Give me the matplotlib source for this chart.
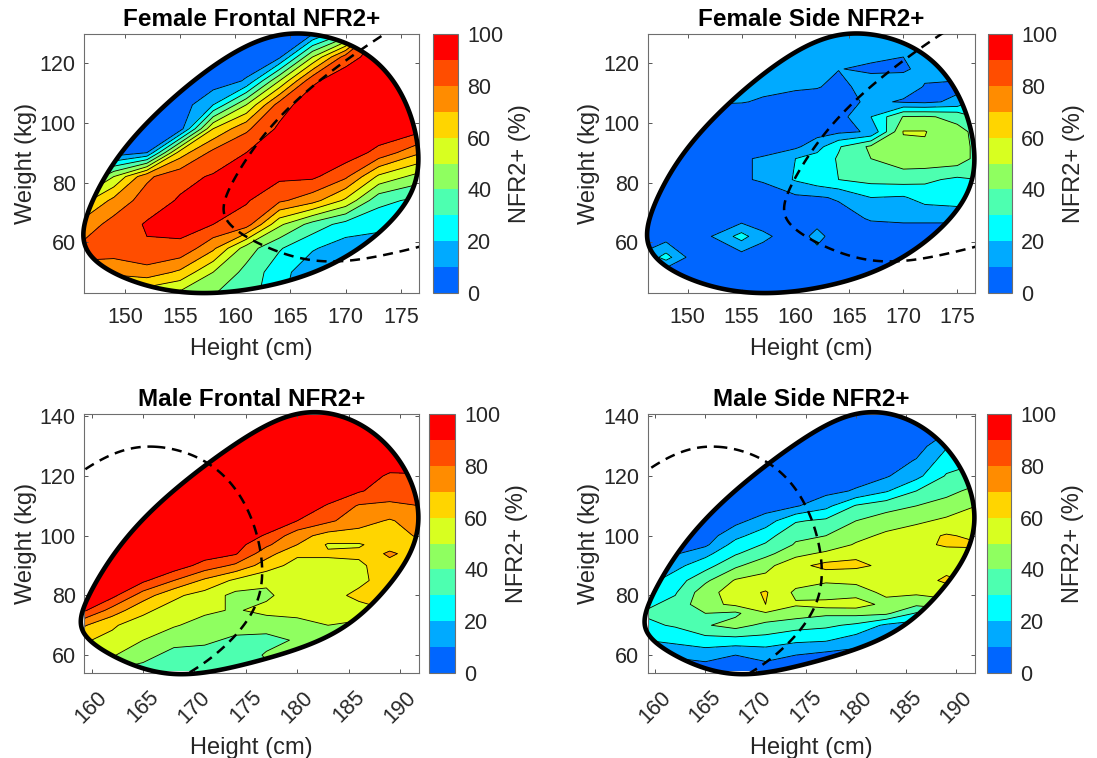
import numpy as np
import matplotlib
matplotlib.use('Agg')
import matplotlib.pyplot as plt
from matplotlib.path import Path
from matplotlib.patches import PathPatch

plt.rcParams['font.family'] = ['Liberation Sans', 'DejaVu Sans']

levels = [0, 10, 20, 30, 40, 50, 60, 70, 80, 90, 100]
band_colors = ['#0066ff', '#00aaff', '#00ffff', '#4dffb0', '#8fff60',
               '#d8ff20', '#ffd500', '#ff8c00', '#ff4d00', '#ff0000']

# accommodation boundaries (height, weight)
female_h = [166, 168.8, 171.2, 173.3, 175.1, 176.2, 176.6, 176.3, 175.4, 173.8, 171.2, 168.8, 165.8, 162.8, 159.8,
            156.8, 153.8, 150.8, 148.4, 146.9, 146.3, 146.5, 147.2, 148.4, 150.2, 152.3, 155, 158, 161.3, 163.7]
female_w = [130, 128.3, 124.4, 118.3, 109.4, 98.8, 88.8, 81, 73.2, 65.4, 58.1, 53.1, 48.1, 45.3, 43.6,
            43, 44.2, 47, 50.9, 55.3, 62, 67.6, 75.4, 83.2, 92.1, 101, 110.5, 118.9, 126.1, 128.9]
male_h = [182.2, 185.4, 187.6, 189.6, 191, 191.8, 191.5, 190.5, 188.9, 186.7, 184.7, 181.8, 178.6, 175.1, 171.2,
          168.6, 165.7, 162.8, 160.5, 159.4, 159.2, 159.4, 160.5, 162.5, 165.1, 167.9, 171.2, 174.4, 178, 180.2]
male_w = [141.1, 138.9, 134.4, 126.6, 117.7, 107.6, 99.8, 90.8, 83, 75.2, 70.2, 64.6, 60.1, 56.8, 54.5,
          54, 55.1, 57.9, 62.3, 67.9, 71.8, 77.4, 86.4, 95.3, 105.4, 114.3, 124.4, 132.2, 138.3, 140.6]

# Female frontal: one list per height, weights bottom to top
ff_heights = [146, 149, 152, 155, 158, 161, 164, 167, 170, 173, 177]
ff_weights = [42, 50, 58, 66, 74, 82, 90, 98, 106, 114, 122, 130]
ff_values = [
    [65, 78, 82, 73, 55, 20, 5, 4, 4, 4, 4, 4],
    [55, 72, 86, 84, 73, 50, 4, 4, 4, 4, 4, 4],
    [50, 76, 89, 91, 85, 78, 10, 4, 4, 4, 4, 4],
    [45, 68, 88, 93, 91, 87, 65, 5, 4, 4, 4, 4],
    [40, 50, 72, 90, 94, 91, 83, 60, 20, 4, 4, 4],
    [35, 37, 45, 85, 91, 93, 90, 78, 50, 11, 4, 4],
    [22, 24, 31, 52, 82, 92, 97, 92, 85, 50, 8, 4],
    [12, 13, 21, 36, 74, 92, 97, 97, 97, 88, 50, 8],
    [8, 8, 15, 26, 58, 82, 96, 97, 97, 97, 85, 30],
    [8, 8, 14, 23, 33, 58, 87, 97, 97, 97, 96, 90],
    [8, 9, 12, 21, 27, 45, 70, 93, 97, 97, 97, 97],
]

# Female side: one list per weight
fs_heights = [146, 148, 150, 152, 155, 157, 160, 162, 164, 167, 170, 172, 175, 177]
fs_weights = [42, 50, 55, 62, 68, 75, 81, 88, 92, 97, 102, 107, 112, 118, 124, 130]
fs_rows = [
    [4, 4, 4, 4, 4, 4, 4, 4, 4, 4, 4, 4, 4, 4],
    [4, 4, 4, 4, 4, 4, 4, 4, 4, 4, 4, 4, 4, 4],
    [12, 24, 9, 5, 5, 5, 5, 6, 4, 4, 4, 4, 4, 4],
    [5, 5, 5, 9, 24, 12, 5, 13, 5, 4, 4, 4, 4, 4],
    [4, 4, 4, 4, 5, 5, 5, 6, 6, 11, 12, 12, 12, 14],
    [4, 4, 4, 4, 4, 5, 8, 9, 11, 20, 19, 24, 26, 28],
    [4, 4, 4, 4, 9, 11, 21, 26, 30, 33, 34, 32, 28, 30],
    [4, 4, 4, 4, 9, 11, 20, 24, 31, 40, 46, 47, 46, 36],
    [4, 4, 4, 4, 5, 6, 8, 16, 29, 42, 48, 49, 46, 36],
    [4, 4, 4, 4, 4, 4, 5, 6, 8, 11, 50.5, 50.5, 42, 38],
    [4, 4, 4, 4, 4, 4, 4, 5, 6, 20, 40.5, 41, 38, 28],
    [14, 13, 12, 11, 10.5, 9, 7, 6, 6, 12, 9, 8, 12, 25],
    [14, 14, 14, 14, 13, 12, 11, 10.5, 8, 13, 14, 9.5, 8, 13],
    [15, 15, 15, 14, 14, 14, 13, 12, 10.2, 9, 9, 12, 14, 14],
    [15, 15, 15, 15, 15, 15, 14, 14, 13, 12, 10.5, 12, 14, 14],
    [14, 14, 14, 14, 14, 14, 14, 14, 14, 14, 14, 14, 14, 14],
]

# Male frontal: one list per height
mf_heights = [159, 162, 165, 168, 171, 174, 177, 180, 183, 186, 189, 192]
mf_weights = [55, 60, 65, 70, 75, 80, 85, 90, 94, 97, 100, 105, 110, 115, 120, 125, 130, 135, 141]
mf_values = [
    [42, 48, 61, 72, 93, 96, 97, 97, 97, 97, 97, 97, 97, 97, 97, 97, 97, 97, 97],
    [40, 51, 58, 61, 76, 93, 96, 97, 97, 97, 97, 97, 97, 97, 97, 97, 97, 97, 97],
    [37, 43, 50, 56, 62, 75, 92, 97, 97, 97, 97, 97, 97, 97, 97, 97, 97, 97, 97],
    [34, 37, 43, 51, 56, 62, 80, 96, 97, 97, 97, 97, 97, 97, 97, 97, 97, 97, 97],
    [32, 36, 42, 46, 52, 56, 68, 86, 95, 96, 97, 97, 97, 97, 97, 97, 97, 97, 97],
    [33, 34, 38, 44, 49, 47, 58, 78, 91, 94, 96, 97, 97, 97, 97, 97, 97, 97, 97],
    [38, 41, 37, 44, 53, 48, 52, 65, 74, 82, 89, 97, 97, 97, 97, 97, 97, 97, 97],
    [41, 42, 41, 47, 53, 56, 56, 56, 62, 70, 74, 90, 97, 97, 97, 97, 97, 97, 97],
    [42, 44, 46, 50, 55, 57, 58, 58, 61, 59, 66, 82, 89, 97, 97, 97, 97, 97, 97],
    [42, 43, 45, 47, 57, 62, 58, 58, 62, 59, 66, 74, 79, 91, 97, 97, 97, 97, 97],
    [45, 50, 55, 58, 60, 62, 64, 66, 72, 65, 67, 69, 78, 85, 88, 97, 97, 97, 97],
    [55, 56, 57, 58, 59, 59, 60, 62, 64, 68, 71, 75, 80, 85, 89, 95, 97, 97, 97],
]

# Male side: one list per height
ms_heights = [159, 162, 165, 168, 171, 174, 177, 180, 183, 186, 189, 192]
ms_weights = [55, 60, 65, 70, 74, 77, 81, 85, 90, 94, 97, 100, 105, 110, 115, 120, 125, 130, 135, 141]
ms_values = [
    [5, 12, 20, 28, 31, 28, 22, 16, 9, 5, 4, 4, 4, 4, 4, 4, 4, 4, 4, 4],
    [6, 11, 23, 31, 36, 33, 29, 25, 17, 9, 6, 4, 4, 4, 4, 4, 4, 4, 4, 4],
    [5, 14, 26, 39, 40, 47, 46, 38, 26, 17, 8, 5, 4, 4, 4, 4, 4, 4, 4, 4],
    [4, 10, 26, 44, 38, 52, 55, 51, 38, 29, 24, 17, 7, 4, 4, 4, 4, 4, 4, 4],
    [6, 13, 26, 37, 49, 60, 61, 53, 47, 37, 31, 26, 15, 5, 4, 4, 4, 4, 4, 4],
    [5, 10, 22, 34, 45, 51, 48, 54, 57, 47, 41, 38, 29, 9, 4, 4, 4, 4, 4, 4],
    [4, 7, 21, 32, 42, 55, 42, 52, 63, 52, 44, 40, 32, 17, 7, 4, 4, 4, 4, 4],
    [4, 6, 15, 28, 43, 55, 46, 52, 62, 58, 51, 47, 40, 31, 11, 6, 4, 4, 4, 4],
    [4, 5, 9, 18, 42, 47, 52, 54, 58, 56, 53, 52, 45, 36, 19, 9, 4, 4, 4, 4],
    [4, 5, 8, 15, 29, 42, 52, 55, 55, 57, 58, 56, 48, 40, 30, 17, 11, 5, 4, 4],
    [8, 10, 14, 20, 32, 46, 54, 62, 56, 57, 61, 61, 52, 44, 37, 31, 25, 19, 9, 5],
    [10, 12, 16, 22, 34, 48, 54, 58, 58, 58, 61, 58, 53, 50, 43, 35, 29, 22, 12, 6],
]


def smooth_path(xs, ys, keep=6):
    # low-pass the read outline so reading noise does not show as kinks
    fx = np.fft.rfft(xs)
    fy = np.fft.rfft(ys)
    fx[keep + 1:] = 0
    fy[keep + 1:] = 0
    scale = 400 / len(xs)
    sx = np.fft.irfft(fx, 400) * scale
    sy = np.fft.irfft(fy, 400) * scale
    verts = np.column_stack([np.append(sx, sx[0]), np.append(sy, sy[0])])
    codes = [Path.MOVETO] + [Path.LINETO] * 399 + [Path.CLOSEPOLY]
    return Path(verts, codes)


female_path = smooth_path(female_h, female_w)
male_path = smooth_path(male_h, male_w)

W, H = 1097, 758
fig = plt.figure(figsize=(W / 100, H / 100), dpi=100)
dark = '#262626'


def panel(box, cbox, heights, weights, z, title, own, other, xlim, ylim, xticks, yticks, rot):
    ax = fig.add_axes([box[0] / W, 1 - box[3] / H, (box[1] - box[0]) / W, (box[3] - box[2]) / H])
    cax = fig.add_axes([cbox[0] / W, 1 - box[3] / H, (cbox[1] - cbox[0]) / W, (box[3] - box[2]) / H])
    cf = ax.contourf(heights, weights, z, levels=levels, colors=band_colors)
    cl = ax.contour(heights, weights, z, levels=levels[1:-1], colors='k', linewidths=0.6)
    outline = PathPatch(own, fill=False, edgecolor='k', lw=3.3, zorder=5, clip_on=False)
    ax.add_patch(outline)
    cf.set_clip_path(outline)
    cl.set_clip_path(outline)
    ax.add_patch(PathPatch(other, fill=False, edgecolor='k', lw=1.8, linestyle=(0, (4, 2.7)), zorder=4))
    ax.set_xlim(xlim)
    ax.set_ylim(ylim)
    ax.set_xticks(xticks)
    ax.set_yticks(yticks)
    ax.tick_params(direction='in', top=True, right=True, length=3, width=0.7, color='#555555',
                   labelsize=15.5, labelcolor=dark)
    ax.tick_params(axis='y', pad=6)
    ax.tick_params(axis='x', pad=10)
    if rot:
        plt.setp(ax.get_xticklabels(), rotation=rot, ha='center')
    for s in ax.spines.values():
        s.set_color('#6e6e6e')
        s.set_linewidth(0.8)
    ax.set_xlabel('Height (cm)', fontsize=17, color=dark, labelpad=7)
    ax.set_ylabel('Weight (kg)', fontsize=17, color=dark, labelpad=2)
    ax.set_title(title, fontsize=17.5, fontweight='bold', pad=6)
    cb = fig.colorbar(cf, cax=cax)
    cb.set_ticks(levels[::2])
    cb.ax.tick_params(length=0, labelsize=15.5, labelcolor=dark, pad=6.5)
    cb.outline.set_edgecolor('#6e6e6e')
    cb.outline.set_linewidth(0.8)
    cb.set_label('NFR2+ (%)', fontsize=17, color=dark, labelpad=4)
    return ax


fem_xt = [150, 155, 160, 165, 170, 175]
male_xt = [160, 165, 170, 175, 180, 185, 190]
fem_yt = [60, 80, 100, 120]
male_yt = [60, 80, 100, 120, 140]
fem_lim = ((146.3, 176.65), (43.05, 129.7))
male_lim = ((159.26, 191.85), (54, 140.8))

panel((84, 419, 34, 293), (433, 458), ff_heights, ff_weights, np.array(ff_values).T,
      'Female Frontal NFR2+', female_path, male_path, fem_lim[0], fem_lim[1], fem_xt, fem_yt, 0)
panel((647.7, 975, 34, 293), (987.7, 1012), fs_heights, fs_weights, np.array(fs_rows),
      'Female Side NFR2+', female_path, male_path, fem_lim[0], fem_lim[1], fem_xt, fem_yt, 0)
panel((84, 419, 414, 673), (429, 455), mf_heights, mf_weights, np.array(mf_values).T,
      'Male Frontal NFR2+', male_path, female_path, male_lim[0], male_lim[1], male_xt, male_yt, 45)
panel((647.7, 975, 414, 673), (986.7, 1011), ms_heights, ms_weights, np.array(ms_values).T,
      'Male Side NFR2+', male_path, female_path, male_lim[0], male_lim[1], male_xt, male_yt, 45)

plt.savefig('out.png', dpi=100)
